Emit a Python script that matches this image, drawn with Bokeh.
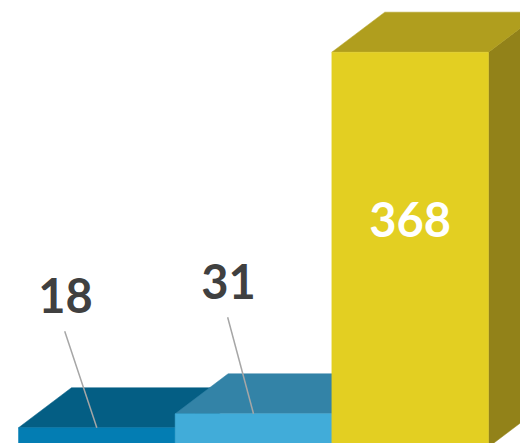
from bokeh.plotting import figure
from bokeh.embed import file_html
from bokeh.resources import INLINE
from bokeh.models import Range1d
from bokeh.core.properties import value as pv

# ---- data ----
categories = ["A", "B", "C"]
values = [18, 31, 368]
labels = ["18", "31", "368"]

# ---- styles ----
front_colors = ["#037db3", "#41acd9", "#e3cf22"]
top_colors = ["#045e84", "#3383a7", "#b09e1e"]
side_colors = ["#034f70", "#2c7092", "#928219"]
label_colors = ["#404040", "#404040", "#ffffff"]
label_dx = [-0.2, -0.16, 0.0]
DX = 0.338   # depth in x units
DY = 37.3    # depth in y units
W = 0.5
PX_X = 156.67
PX_Y = 1.073

W_PX, H_PX = 520, 443
x0 = -0.5 - 18 / PX_X
y0 = 3.3   # baseline lies 3.5px below the bottom edge
p = figure(width=W_PX, height=H_PX, output_backend="svg", toolbar_location=None,
           x_range=Range1d(x0, x0 + W_PX / PX_X), y_range=Range1d(y0, y0 + H_PX / PX_Y),
           min_border=0)
p.axis.visible = False
p.grid.visible = False
p.outline_line_color = None
p.background_fill_color = "white"
p.border_fill_color = "white"

xs, ys, cs = [], [], []
for i, v in enumerate(values):
    l, r = i - W, i + W
    xs.append([r, r + DX, r + DX, r]); ys.append([0, DY, v + DY, v]); cs.append(side_colors[i])
    xs.append([l, l + DX, r + DX, r]); ys.append([v, v + DY, v + DY, v]); cs.append(top_colors[i])
    xs.append([l, l, r, r]); ys.append([0, v, v, 0]); cs.append(front_colors[i])
p.patches(xs, ys, fill_color=cs, line_color=cs, line_width=0.5)

for i, v in enumerate(values):
    if v < 100:
        p.line([i + label_dx[i] - 0.005, i], [v + 90, v], line_color="#a6a6a6", line_width=1.5)
        ly = v + 123
    else:
        ly = v - 155.5
    p.text([i + label_dx[i]], [ly], text=[labels[i]], text_color=label_colors[i],
           text_font=pv("Lato"), text_font_style="bold", text_font_size="47px",
           text_align="center", text_baseline="middle")

open("out.html", "w").write(file_html(p, INLINE))
